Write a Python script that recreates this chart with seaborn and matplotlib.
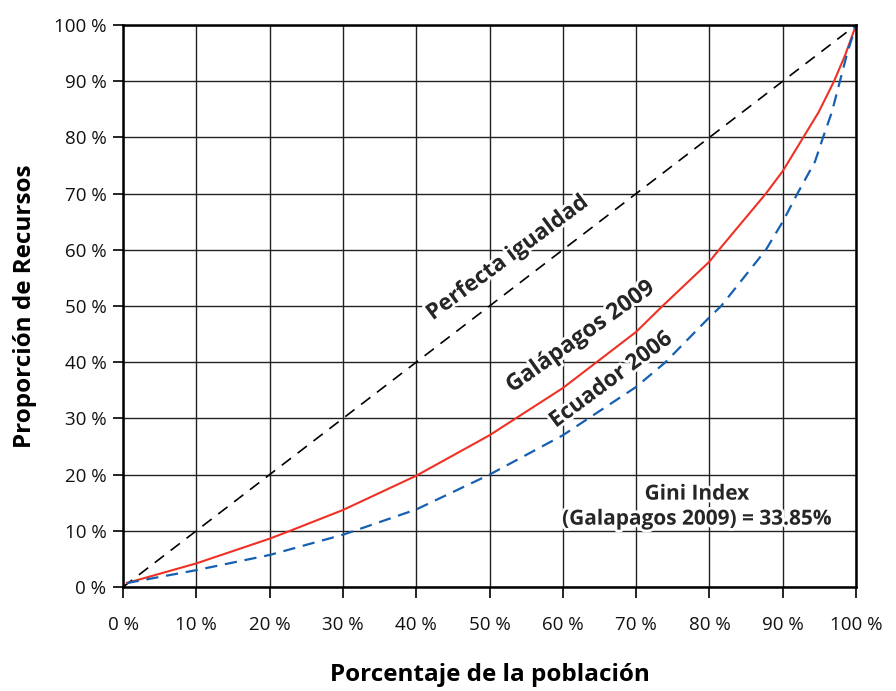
import matplotlib
matplotlib.use('Agg')
import matplotlib.pyplot as plt
import matplotlib.patheffects as pe
import matplotlib.ticker as mtick
import seaborn as sns

# Lorenz curves (percent of population, percent of resources)
equal_x = [0, 100]
equal_y = [0, 100]

gal_x = [0.5, 10, 20, 22.8, 30, 40, 50, 60, 70, 73.6, 80, 81.3, 87.7, 90,
         92.8, 94.9, 97, 98.5, 100]
gal_y = [0.7, 4.2, 8.6, 10, 13.7, 19.8, 27, 35.4, 45.4, 50, 57.9, 60, 70, 74,
         80, 84.5, 90, 94.6, 100]

ecu_x = [0.5, 10, 20, 30, 40, 50, 60, 70, 74, 80, 81.6, 87.7, 90, 92, 94.4,
         95.5, 96.7, 97.8, 98.8, 100]
ecu_y = [0.7, 3.0, 5.7, 9.3, 13.8, 20, 27, 35.6, 40, 48, 50, 60, 65, 70, 75.7,
         80, 84.5, 90, 95, 100]

ticks = list(range(0, 101, 10))

sns.set_theme(style='white')
plt.rcParams['font.family'] = ['Open Sans', 'DejaVu Sans']

fig = plt.figure(figsize=(8.96, 6.91), dpi=100)
ax = fig.add_axes([0.1373, 0.1505, 0.8181, 0.8133])

sns.lineplot(x=equal_x, y=equal_y, ax=ax, color='black', linewidth=1.2,
             linestyle=(0, (7, 5)))
sns.lineplot(x=gal_x, y=gal_y, ax=ax, color='#ee3124', linewidth=1.5, sort=False)
sns.lineplot(x=ecu_x, y=ecu_y, ax=ax, color='#1560b0', linewidth=1.6, sort=False,
             linestyle=(0, (5.5, 3.5)))

ax.set_xlim(0, 100)
ax.set_ylim(0, 100)
ax.set_xticks(ticks)
ax.set_yticks(ticks)
ax.xaxis.set_major_formatter(mtick.FuncFormatter(lambda v, p: f'{v:.0f} %'))
ax.yaxis.set_major_formatter(mtick.FuncFormatter(lambda v, p: f'{v:.0f} %'))
ax.grid(True, color='#222222', linewidth=1.0)
ax.set_axisbelow(True)
for s in ax.spines.values():
    s.set_color('black')
    s.set_linewidth(1.8)
ax.tick_params(axis='x', direction='out', length=8, width=1.2, color='black',
               pad=13, labelsize=13.5, labelcolor='#111111', bottom=True)
ax.tick_params(axis='y', direction='out', length=7, width=1.2, color='black',
               pad=5, labelsize=13.5, labelcolor='#111111', left=True)

ax.set_xlabel('Porcentaje de la población', fontsize=17.5, fontweight='bold',
              labelpad=21, color='black')
ax.set_ylabel('Proporción de Recursos', fontsize=17.5, fontweight='bold',
              labelpad=12, color='black')

halo = [pe.withStroke(linewidth=4, foreground='white')]
ax.text(52.5, 58.5, 'Perfecta igualdad', rotation=36.5, rotation_mode='anchor',
        ha='center', va='center', fontsize=16, fontweight='bold', path_effects=halo)
ax.text(62.4, 44.5, 'Galápagos 2009', rotation=35.5, rotation_mode='anchor',
        ha='center', va='center', fontsize=16.5, fontweight='bold', path_effects=halo)
ax.text(66.6, 36.8, 'Ecuador 2006', rotation=36.5, rotation_mode='anchor',
        ha='center', va='center', fontsize=16, fontweight='bold', path_effects=halo)
ax.text(78.3, 14.3, 'Gini Index\n(Galapagos 2009) = 33.85%', ha='center',
        va='center', fontsize=15, fontweight='bold', linespacing=1.25,
        path_effects=halo)

fig.savefig('out.png', dpi=100)
